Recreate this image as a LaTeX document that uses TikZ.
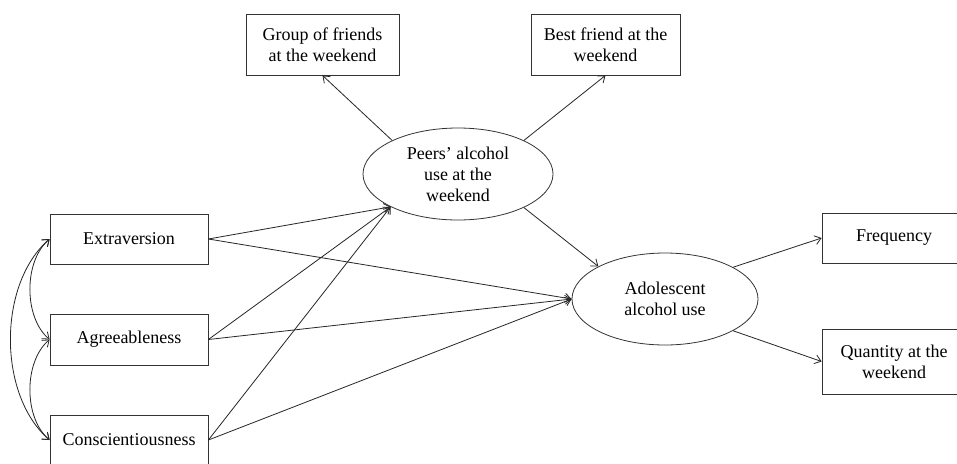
\documentclass[tikz,border=0pt]{standalone}
\usepackage{fontspec}
\setmainfont{Liberation Serif}
\usetikzlibrary{shapes.geometric,arrows.meta}
\begin{document}
\begin{tikzpicture}[x=1pt,y=-1pt,
  every node/.style={font=\fontsize{18}{21}\selectfont, align=center, inner sep=0pt},
  box/.style={draw=black!80, line width=0.8pt, rectangle},
  latent/.style={draw=black!80, line width=0.8pt, ellipse},
  conn/.style={draw=black!85, line width=0.8pt, -{Straight Barb[length=6pt,width=9pt]}},
  cov/.style={draw=black!85, line width=0.8pt, {Straight Barb[length=6pt,width=9pt]}-{Straight Barb[length=6pt,width=9pt]}}
]
\useasboundingbox (0,0) rectangle (957,463);
\fill[white] (0,0) rectangle (957,463);

\node[box, minimum width=153, minimum height=61] (grp) at (322.5,44.5) {Group of friends\\at the weekend};
\node[box, minimum width=149, minimum height=61] (best) at (605.5,44.5) {Best friend at the\\weekend};
\node[latent, minimum width=190, minimum height=92] (peers) at (458,174) {Peers’ alcohol\\use at the\\weekend};
\node[latent, minimum width=186, minimum height=92] (adol) at (665,299) {Adolescent\\alcohol use};
\node[box, minimum width=158, minimum height=50] (ext) at (129,239) {Extraversion};
\node[box, minimum width=158, minimum height=51] (agr) at (129,339.5) {Agreeableness};
\node[box, minimum width=158, minimum height=50] (con) at (129,440) {Conscientiousness};
\node[box, minimum width=144, minimum height=50] (freq) at (894,238) {Frequency};
\node[box, minimum width=144, minimum height=65] (quant) at (894,361.5) {Quantity at the\\weekend};

\draw[conn] (peers.153) -- (grp.south);
\draw[conn] (peers.27) -- (best.south);
\draw[conn] (peers.-27) -- (adol.154);
\draw[conn] (adol.25) -- (freq.west);
\draw[conn] (adol.-25) -- (quant.west);

\draw[conn] (ext.east) -- (peers.206);
\draw[conn] (agr.east) -- (peers.206);
\draw[conn] (con.east) -- (peers.206);
\draw[conn] (ext.east) -- (adol.west);
\draw[conn] (agr.east) -- (adol.west);
\draw[conn] (con.east) -- (adol.west);

\draw[cov] (ext.west) .. controls +(-26,22) and +(-26,-22) .. (agr.west);
\draw[cov] (agr.west) .. controls +(-26,22) and +(-26,-22) .. (con.west);
\draw[cov] (ext.west) .. controls +(-52,45) and +(-52,-45) .. (con.west);
\end{tikzpicture}
\end{document}
